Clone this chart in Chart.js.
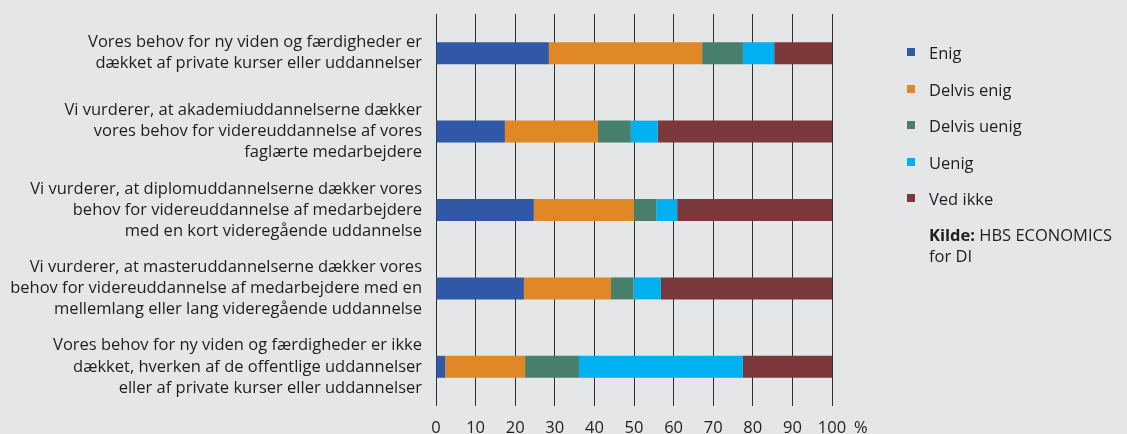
<!DOCTYPE html>
<html>
<head>
<meta charset="utf-8">
<script src="https://cdn.jsdelivr.net/npm/chart.js@4/dist/chart.umd.min.js"></script>
<style>
    html, body { margin: 0; padding: 0; background: #e5e6e8; }
    #wrap { position: relative; width: 1127px; height: 434px; }
    #legend { position: absolute; left: 907px; top: 41px; font-family: "Open Sans", sans-serif; font-size: 16.5px; color: #1e1e1e; }
    #legend .item { height: 36.6px; display: flex; align-items: flex-start; }
    #legend .box { width: 8px; height: 8px; margin: 7px 14px 0 0; }
    #legend .src { margin-left: 22px; line-height: 21px; margin-top: 0px; }
</style>
</head>
<body>
<div id="wrap">
    <canvas id="chart"></canvas>
    <div id="legend"></div>
</div>
<script>
// Data
const categories = [
    ['Vores behov for ny viden og færdigheder er', 'dækket af private kurser eller uddannelser'],
    ['Vi vurderer, at akademiuddannelserne dækker', 'vores behov for videreuddannelse af vores', 'faglærte medarbejdere'],
    ['Vi vurderer, at diplomuddannelserne dækker vores', 'behov for videreuddannelse af medarbejdere', 'med en kort videregående uddannelse'],
    ['Vi vurderer, at masteruddannelserne dækker vores', 'behov for videreuddannelse af medarbejdere med en', 'mellemlang eller lang videregående uddannelse'],
    ['Vores behov for ny viden og færdigheder er ikke', 'dækket, hverken af de offentlige uddannelser', 'eller af private kurser eller uddannelser']
];
const seriesNames = ['Enig', 'Delvis enig', 'Delvis uenig', 'Uenig', 'Ved ikke'];
const enig = [28.5, 17.4, 24.7, 22.2, 2.3];
const delvisEnig = [38.7, 23.5, 25.3, 22.0, 20.2];
const delvisUenig = [10.3, 8.3, 5.6, 5.7, 13.6];
const uenig = [7.9, 6.8, 5.3, 6.9, 41.4];
const vedIkke = [14.6, 44.0, 39.1, 43.2, 22.5];
const xTicks = [0, 10, 20, 30, 40, 50, 60, 70, 80, 90, 100];
const colors = ['#3157a7', '#e08825', '#487e6c', '#00b0f0', '#7c373b'];

const seriesValues = [enig, delvisEnig, delvisUenig, uenig, vedIkke];
const textColor = '#1e1e1e';
const fontFamily = '"Open Sans", sans-serif';
const fontSize = 16.5;

// Percent sign after the last x tick
const percentSign = {
    id: 'percentSign',
    afterDraw(chart) {
        const x = chart.scales.x;
        const ctx = chart.ctx;
        ctx.save();
        ctx.font = fontSize + 'px ' + fontFamily;
        ctx.fillStyle = textColor;
        ctx.textBaseline = 'middle';
        ctx.textAlign = 'left';
        ctx.fillText('%', x.getPixelForValue(100) + 22, x.top + 12 + fontSize * 0.6);
        ctx.restore();
    }
};

new Chart(document.getElementById('chart'), {
    type: 'bar',
    data: {
        labels: categories,
        datasets: seriesNames.map((name, i) => ({
            label: name,
            data: seriesValues[i],
            backgroundColor: colors[i],
            borderWidth: 0,
            barPercentage: 0.28,
            categoryPercentage: 1
        }))
    },
    options: {
        indexAxis: 'y',
        responsive: true,
        maintainAspectRatio: false,
        animation: false,
        layout: { padding: { top: 14, right: 295, bottom: 0, left: 0 } },
        scales: {
            x: {
                stacked: true,
                min: 0,
                max: 100,
                afterBuildTicks: s => { s.ticks = xTicks.map(v => ({ value: v })); },
                afterFit: s => { s.height = 28; },
                grid: { color: '#2e2e2e', drawTicks: false, lineWidth: 1 },
                border: { display: false },
                ticks: { color: textColor, font: { family: fontFamily, size: fontSize }, padding: 12 }
            },
            y: {
                stacked: true,
                afterFit: s => { s.width = 436; s.paddingTop = 0; s.paddingBottom = 0; },
                grid: { display: false, drawTicks: false },
                border: { display: false },
                ticks: { color: textColor, font: { family: fontFamily, size: fontSize, lineHeight: 1.28 }, padding: 14 }
            }
        },
        plugins: {
            legend: { display: false },
            tooltip: { enabled: false }
        }
    },
    plugins: [percentSign]
});

// Legend (HTML)
const legend = document.getElementById('legend');
seriesNames.forEach((name, i) => {
    const item = document.createElement('div');
    item.className = 'item';
    item.innerHTML = '<span class="box" style="background:' + colors[i] + '"></span><span>' + name + '</span>';
    legend.appendChild(item);
});
const src = document.createElement('div');
src.className = 'src';
src.innerHTML = '<b>Kilde:</b> HBS ECONOMICS<br>for DI';
legend.appendChild(src);
</script>
</body>
</html>
